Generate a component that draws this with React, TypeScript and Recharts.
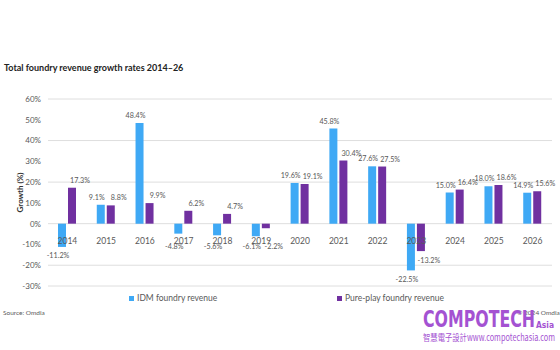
import React from "react";
import { BarChart, Bar, XAxis, YAxis, CartesianGrid, LabelList } from "recharts";

const years = ["2014", "2015", "2016", "2017", "2018", "2019", "2020", "2021", "2022", "2023", "2024", "2025", "2026"];
const idmGrowth = [-11.2, 9.1, 48.4, -4.8, -5.6, -6.1, 19.6, 45.8, 27.6, -22.5, 15.0, 18.0, 14.9];
const pureplayGrowth = [17.3, 8.8, 9.9, 6.2, 4.7, -2.2, 19.1, 30.4, 27.5, -13.2, 16.4, 18.6, 15.6];
const yTicks = [-30, -20, -10, 0, 10, 20, 30, 40, 50, 60];
const seriesNames = ["IDM foundry revenue", "Pure-play foundry revenue"];

const data = years.map((y, i) => ({ year: y, idm: idmGrowth[i], pure: pureplayGrowth[i] }));

const BLUE = "#3fa9f5";
const PURPLE = "#7030a0";
const WM = "#a452d2";
const FONT = "Lato, 'Open Sans', sans-serif";
const TXT = "#595959";

const W = 560;
const H = 350;
const M = { top: 99, right: 8, bottom: 44, left: 0 };
const XH = 20;
const PLOT_H = H - M.top - M.bottom - XH;
const Y_MIN = -30;
const Y_MAX = 60;
const ZERO_FROM_BOTTOM = (PLOT_H * (0 - Y_MIN)) / (Y_MAX - Y_MIN);

const YearTick = (props: any) => {
  const { x, y, payload } = props;
  return (
    <text x={x} y={y - ZERO_FROM_BOTTOM + 12} textAnchor="middle" fontSize={8.5} fill={TXT} fontFamily={FONT}>
      {payload.value}
    </text>
  );
};

const makeLabel = (dx: number) => (props: any) => {
  const { x, y, width, height, value } = props;
  const v = Number(value);
  const cx = x + width / 2 + dx;
  const top = Math.min(y, y + height);
  const bottom = Math.max(y, y + height);
  const ty = v >= 0 ? top - 5 : Math.max(bottom + 11.5, top + 25);
  return (
    <text x={cx} y={ty} textAnchor="middle" fontSize={7.2} fill={TXT} fontFamily={FONT}>
      {v.toFixed(1)}%
    </text>
  );
};

export default function App() {
  return (
    <div style={{ position: "absolute", left: 0, top: 0, width: W, height: H, background: "#fff", overflow: "hidden" }}>
      <div style={{ position: "absolute", left: 4, top: 62, fontFamily: FONT, fontWeight: 700, fontSize: 9, color: "#222", whiteSpace: "nowrap" }}>
        Total foundry revenue growth rates 2014–26
      </div>
      <BarChart width={W} height={H} data={data} margin={M} barSize={8} barGap={2}>
        <CartesianGrid vertical={false} stroke="#dedede" />
        <XAxis dataKey="year" height={XH} axisLine={false} tickLine={false} tick={<YearTick />} interval={0} />
        <YAxis
          width={48}
          domain={[Y_MIN, Y_MAX]}
          ticks={yTicks}
          axisLine={false}
          tickLine={false}
          tickSize={0}
          tickMargin={7}
          tickFormatter={(v: number) => `${v}%`}
          tick={{ fontSize: 8, fill: TXT, fontFamily: FONT }}
          label={{ value: "Growth (%)", angle: -90, position: "insideLeft", offset: 20, style: { fontSize: 8, fontWeight: 700, fill: "#333", fontFamily: FONT, textAnchor: "middle" } }}
        />
        <Bar dataKey="idm" name={seriesNames[0]} fill={BLUE} isAnimationActive={false}>
          <LabelList dataKey="idm" content={makeLabel(-4)} />
        </Bar>
        <Bar dataKey="pure" name={seriesNames[1]} fill={PURPLE} isAnimationActive={false}>
          <LabelList dataKey="pure" content={makeLabel(8)} />
        </Bar>
      </BarChart>
      <div style={{ position: "absolute", left: 0, top: 293, width: W, height: 12, fontFamily: FONT, fontSize: 8.5, color: TXT }}>
        <div style={{ position: "absolute", left: 129, top: 0, display: "flex", alignItems: "center", whiteSpace: "nowrap" }}>
          <span style={{ width: 5, height: 5, background: BLUE, display: "inline-block", marginRight: 3 }} />
          {seriesNames[0]}
        </div>
        <div style={{ position: "absolute", left: 337, top: 0, display: "flex", alignItems: "center", whiteSpace: "nowrap" }}>
          <span style={{ width: 5, height: 5, background: PURPLE, display: "inline-block", marginRight: 3 }} />
          {seriesNames[1]}
        </div>
      </div>
      <div style={{ position: "absolute", left: 3, top: 309, fontFamily: FONT, fontSize: 6.5, color: TXT }}>Source: Omdia</div>
      <div style={{ position: "absolute", left: 517, top: 309, fontFamily: FONT, fontSize: 6.5, color: TXT, whiteSpace: "nowrap" }}>© 2024 Omdia</div>
      <svg style={{ position: "absolute", left: 0, top: 0 }} width={W} height={H}>
        <g transform="translate(423,327) scale(1,1.4)">
          <text x={0} y={0} fontSize={16.5} fontWeight={700} fill={WM} fontFamily="'DejaVu Sans Condensed', 'DejaVu Sans', sans-serif" textLength={112} lengthAdjust="spacingAndGlyphs">
            COMPOTECH
          </text>
        </g>
        <text x={536} y={328} fontSize={9} fontWeight={700} fill={WM} fontFamily="'DejaVu Sans Condensed', 'DejaVu Sans', sans-serif" textLength={18} lengthAdjust="spacingAndGlyphs">
          Asia
        </text>
        <g transform="translate(423,341) scale(1,1.25)">
          <text x={0} y={0} fontSize={7.6} fill={WM} fontFamily="'Noto Sans CJK TC', 'DejaVu Sans Condensed', sans-serif" textLength={132} lengthAdjust="spacingAndGlyphs">
            智慧電子設計www.compotechasia.com
          </text>
        </g>
      </svg>
    </div>
  );
}
